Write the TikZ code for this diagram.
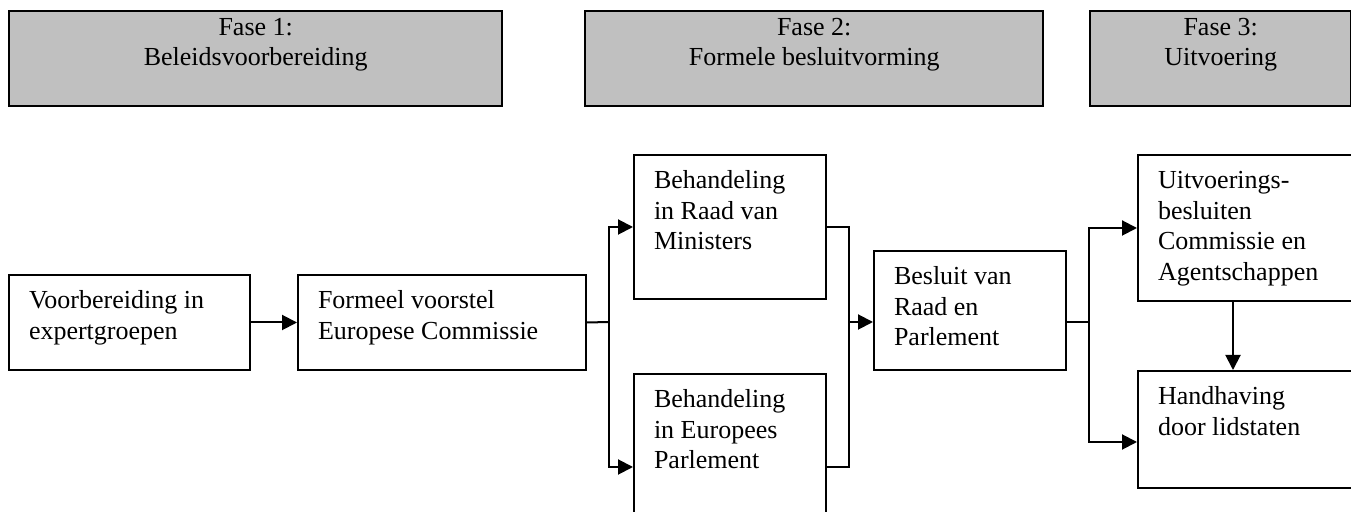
\documentclass[tikz,border=0pt]{standalone}
\usepackage{fontspec}
\setmainfont{Liberation Serif}
\usetikzlibrary{arrows.meta}

\definecolor{grijs}{RGB}{192,192,192}
\newcommand{\vak}[3]{\parbox[t][#2][t]{#1}{\raggedright\rule{0pt}{17pt}#3}}
\newcommand{\fasetekst}[3]{\parbox[t][#2][t]{#1}{\centering\rule{0pt}{12pt}#3}}

\tikzset{
  stap/.style={draw, line width=1pt, anchor=north west, inner xsep=10pt, inner ysep=0pt},
  fase/.style={draw, line width=1.2pt, fill=grijs, anchor=north west, inner sep=0pt},
  pijl/.style={-{Triangle[length=7.5pt,width=7.5pt]}}
}

\begin{document}
\begin{tikzpicture}[x=0.5pt, y=-0.5pt, line width=1pt, font=\fontsize{13}{15.25}\selectfont]
            \useasboundingbox (0,0) rectangle (1351,512);
            % Fases
            \node[fase] (fase1) at (8,10) {\fasetekst{246.5pt}{47.5pt}{Fase 1:\\Beleidsvoorbereiding}};
            \node[fase] (fase2) at (584,10) {\fasetekst{229pt}{47.5pt}{Fase 2:\\Formele besluitvorming}};
            \node[fase] (fase3) at (1089,10) {\fasetekst{130.5pt}{47.5pt}{Fase 3:\\Uitvoering}};

            % Stappen
            \node[stap] (voorb) at (8,274) {\vak{100.5pt}{47.5pt}{Voorbereiding in\\expertgroepen}};
            \node[stap] (formeel) at (297,274) {\vak{124pt}{47.5pt}{Formeel voorstel\\Europese Commissie}};
            \node[stap] (raad) at (633,154) {\vak{76pt}{72pt}{Behandeling\\in Raad van\\Ministers}};
            \node[stap] (ep) at (633,373) {\vak{76pt}{93pt}{Behandeling\\in Europees\\Parlement}};
            \node[stap] (besluit) at (873,250) {\vak{76pt}{59.5pt}{Besluit van\\Raad en\\Parlement}};
            \node[stap] (uitv) at (1137,154) {\vak{92pt}{73pt}{Uitvoerings-\\besluiten\\Commissie en\\Agentschappen}};
            \node[stap] (handh) at (1137,370) {\vak{92pt}{58.5pt}{Handhaving\\door lidstaten}};

            \coordinate (splits) at (609,322);
            \coordinate (samen) at (849,322);
            \coordinate (splits2) at (1089,322);
            \coordinate (inhandh) at (1137,442);
            \coordinate (pijlx) at (1233,0);

            \draw [pijl] (voorb) -- (formeel);
            \draw (formeel.east) -- (splits);
            \draw [pijl] (splits) |- (raad.west);
            \draw [pijl] (splits) |- (ep.west);
            \draw (raad.east) -| (samen);
            \draw (ep.east) -| (samen);
            \draw [pijl] (samen) -- (samen -| besluit.west);
            \draw (samen -| besluit.east) -- (splits2);
            \draw [pijl] (splits2) |- (uitv.west);
            \draw [pijl] (splits2) |- (inhandh);
            \draw [pijl] (uitv.south -| pijlx) -- (handh.north -| pijlx);
        \end{tikzpicture}
\end{document}
